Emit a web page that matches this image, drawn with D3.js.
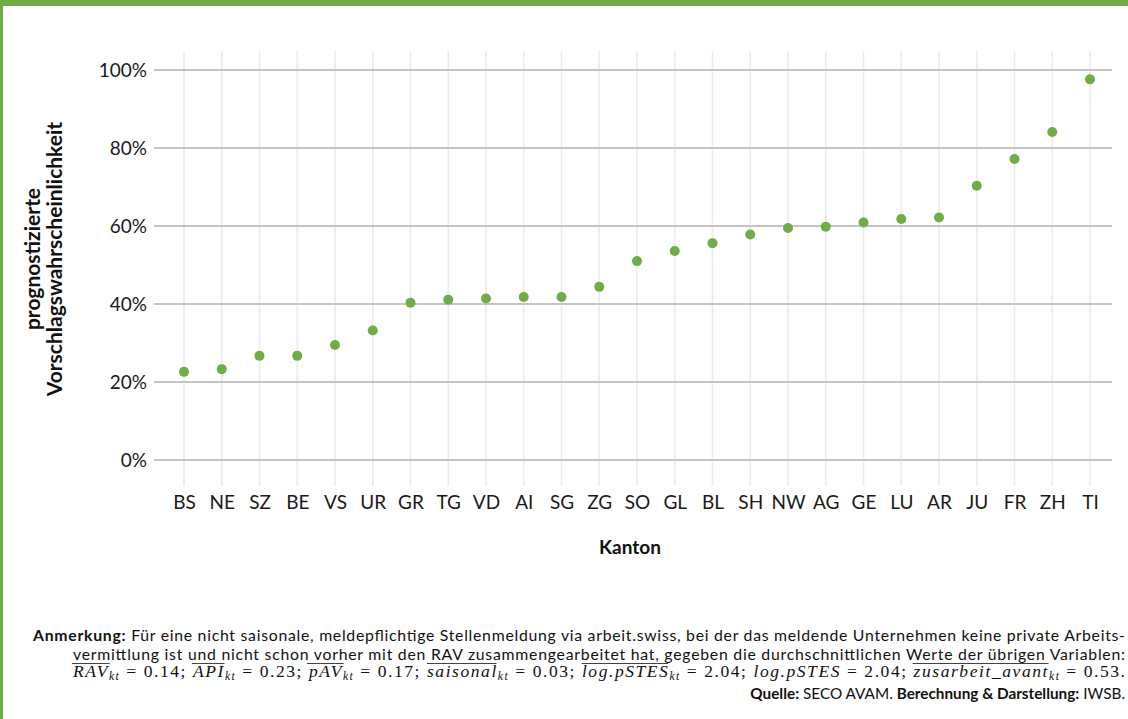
<!DOCTYPE html>
<html><head><meta charset="utf-8">
<script src="https://cdn.jsdelivr.net/npm/d3@7"></script>
<style>
html,body{margin:0;padding:0;background:#fff;}
svg{display:block;}
</style>
</head><body>
<svg id="chart" width="1128" height="719"></svg>
<script>
const cantons = ["BS","NE","SZ","BE","VS","UR","GR","TG","VD","AI","SG","ZG","SO","GL","BL","SH","NW","AG","GE","LU","AR","JU","FR","ZH","TI"];
const probs = [22.6,23.3,26.7,26.7,29.5,33.2,40.3,41.1,41.4,41.8,41.8,44.4,51.0,53.6,55.6,57.8,59.5,59.8,60.9,61.8,62.2,70.3,77.2,84.1,97.6];
const yTicks = [0,20,40,60,80,100];
const yTitleLines = ["prognostizierte","Vorschlagswahrscheinlichkeit"];
const xTitle = "Kanton";
const noteLine1 = ["Anmerkung:", " Für eine nicht saisonale, meldepflichtige Stellenmeldung via arbeit.swiss, bei der das meldende Unternehmen keine private Arbeits-"];
const noteLine2 = "vermittlung ist und nicht schon vorher mit den RAV zusammengearbeitet hat, gegeben die durchschnittlichen Werte der übrigen Variablen:";
const mathTerms = [
  {base:"RAV", sub:"kt", bar:true, val:"0.14"},
  {base:"API", sub:"kt", bar:true, val:"0.23"},
  {base:"pAV", sub:"kt", bar:true, val:"0.17"},
  {base:"saisonal", sub:"kt", bar:true, val:"0.03"},
  {base:"log.pSTES", sub:"kt", bar:true, val:"2.04"},
  {base:"log.pSTES", sub:"", bar:false, val:"2.04"},
  {base:"zusarbeit_avant", sub:"kt", bar:true, val:"0.53"}
];
const sourceParts = [["Quelle:",true],[" SECO AVAM. ",false],["Berechnung & Darstellung:",true],[" IWSB.",false]];

const green = "#70AD47";
const svg = d3.select("#chart");
const font = "Lato, 'Open Sans', sans-serif";

// frame
svg.append("rect").attr("x",0).attr("y",0).attr("width",1128).attr("height",6).attr("fill",green);
svg.append("rect").attr("x",0).attr("y",0).attr("width",3).attr("height",719).attr("fill",green);

const x = d3.scalePoint().domain(cantons).range([184,1090]);
const y = d3.scaleLinear().domain([0,100]).range([460,70]);

// vertical gridlines
svg.append("g").selectAll("line").data(cantons).join("line")
  .attr("x1",d=>x(d)).attr("x2",d=>x(d)).attr("y1",51).attr("y2",486)
  .attr("stroke","#ebebeb").attr("stroke-width",1.6);

// horizontal gridlines
svg.append("g").selectAll("line").data(yTicks).join("line")
  .attr("x1",154).attr("x2",1112).attr("y1",d=>y(d)).attr("y2",d=>y(d))
  .attr("stroke","#c4c4c4").attr("stroke-width",2);

// y axis labels
const yAxis = d3.axisLeft(y).tickValues(yTicks).tickFormat(d=>d+"%").tickSize(0).tickPadding(0);
const gy = svg.append("g").attr("transform","translate(147,0)").call(yAxis);
gy.select(".domain").remove();
gy.selectAll("text").attr("font-family",font).attr("font-size",19).attr("fill","#1a1a1a").attr("dy","0.35em");

// x axis labels
const xAxis = d3.axisBottom(x).tickSize(0).tickPadding(0);
const gx = svg.append("g").attr("transform","translate(0,509)").call(xAxis);
gx.select(".domain").remove();
gx.selectAll("text").attr("font-family",font).attr("font-size",19).attr("fill","#1a1a1a").attr("dy","0");

// points
svg.append("g").selectAll("circle").data(cantons).join("circle")
  .attr("cx",d=>x(d)).attr("cy",(d,i)=>y(probs[i])).attr("r",5).attr("fill",green);

// y title
const yt = svg.append("text").attr("transform","translate(0,259) rotate(-90)")
  .attr("text-anchor","middle").attr("font-family",font).attr("font-weight","bold").attr("font-size",21).attr("fill","#111");
yt.selectAll("tspan").data(yTitleLines).join("tspan").attr("x",0).attr("y",(d,i)=>i===0?40:62).text(d=>d);

// x title
svg.append("text").attr("x",630).attr("y",554).attr("text-anchor","middle")
  .attr("font-family",font).attr("font-weight","bold").attr("font-size",19).attr("fill","#111").text(xTitle);

// footnote
const noteFont = "Lato, 'Open Sans', sans-serif";
const l1 = svg.append("text").attr("x",33).attr("y",641).attr("font-family",noteFont).attr("font-size",15.8).attr("fill","#111")
  .attr("textLength",1092).attr("lengthAdjust","spacing");
l1.append("tspan").attr("font-weight","bold").text(noteLine1[0]);
l1.append("tspan").text(noteLine1[1]);

svg.append("text").attr("x",73).attr("y",660).attr("font-family",noteFont).attr("font-size",15.8).attr("fill","#111")
  .attr("textLength",1052).attr("lengthAdjust","spacing").text(noteLine2);

const mathFont = "'Liberation Serif', 'DejaVu Serif', serif";
const l3 = svg.append("text").attr("x",73).attr("y",677).attr("font-family",mathFont).attr("font-size",17.5).attr("fill","#111")
  .attr("textLength",1052).attr("lengthAdjust","spacing");
const bars = [];
mathTerms.forEach((t,i)=>{
  const b = l3.append("tspan").attr("font-style","italic").text(t.base);
  if (t.bar) bars.push(b);
  if (t.sub) {
    l3.append("tspan").attr("font-style","italic").attr("font-size",11.5).attr("dy",3).text(t.sub);
    l3.append("tspan").attr("dy",-3).text(" = " + t.val + (i<mathTerms.length-1?"; ":"."));
  } else {
    l3.append("tspan").text(" = " + t.val + "; ");
  }
});
bars.forEach(b=>{
  const bb = b.node().getBBox();
  svg.append("line").attr("x1",bb.x).attr("x2",bb.x+bb.width).attr("y1",663.5).attr("y2",663.5)
    .attr("stroke","#111").attr("stroke-width",0.8);
});

const l4 = svg.append("text").attr("x",1125).attr("y",699).attr("text-anchor","end")
  .attr("font-family",noteFont).attr("font-size",15.3).attr("fill","#111");
sourceParts.forEach(p=>l4.append("tspan").attr("font-weight",p[1]?"bold":"normal").text(p[0]));
</script>
</body></html>
